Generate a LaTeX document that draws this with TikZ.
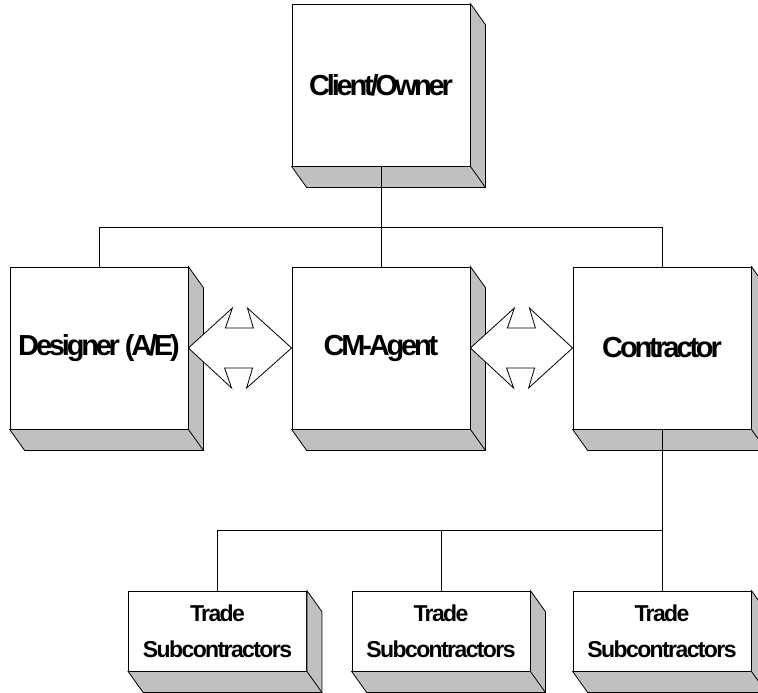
\documentclass[tikz,border=0pt]{standalone}
\usepackage{fontspec}
\setmainfont{Liberation Sans}
\newfontfamily\bigfont{Liberation Sans Bold}[LetterSpace=-11]
\newfontfamily\smallfont{Liberation Sans Bold}[LetterSpace=-7]
\usetikzlibrary{calc}
\definecolor{sidegray}{HTML}{C0C0C0}
\begin{document}
\begin{tikzpicture}[x=1pt,y=-1pt,
  boxbase/.style={draw=black, fill=white, line width=0.8pt, inner sep=0pt, minimum width=178pt, align=center},
  bigbox/.style={boxbase, minimum height=162pt, font=\bigfont\fontsize{29}{34}\selectfont},
  smallbox/.style={boxbase, minimum height=80pt, font=\smallfont\fontsize{23}{36}\selectfont},
  sideface/.style={draw=black, fill=sidegray, line width=0.8pt, line join=miter},
  link/.style={draw=black, line width=0.8pt},
  dblarrow/.style={draw=black, fill=white, line width=0.8pt, line join=miter}]
\useasboundingbox (0,0) rectangle (758,693);
\clip (0,0) rectangle (758,693);

\node[bigbox] (owner) at (381,85) {Client/Owner};
\node[bigbox] (designer) at (99,348) {Designer (A/E)};
\node[bigbox] (cm) at (381,348) {CM-Agent};
\node[bigbox] (contractor) at (662,348) {Contractor};
\node[smallbox] (sub1) at (217.5,631) {Trade\\Subcontractors};
\node[smallbox] (sub2) at (441,631) {Trade\\Subcontractors};
\node[smallbox] (sub3) at (662,631) {Trade\\Subcontractors};

\foreach \n in {owner,designer,cm,contractor,sub1,sub2,sub3}{
  \draw[sideface] (\n.north east) -- ++(15,21) -- ($(\n.south east)+(15,21)$)
    -- ($(\n.south west)+(15,21)$) -- (\n.south west) -- (\n.south east) -- cycle;
  \draw[link] (\n.south east) -- ++(15,21);
}

% connectors
\coordinate (j1) at (381,227);
\coordinate (j2) at (662,530);
\draw[link] (owner.south) -- (j1);
\draw[link] (designer.north) -- (designer.north |- j1) -- (contractor.north |- j1) -- (contractor.north);
\draw[link] (j1) -- (cm.north);
\draw[link] (contractor.south) -- (sub3.north);
\draw[link] (sub1.north) -- (sub1.north |- j2) -- (j2);
\draw[link] (sub2.north) -- (sub2.north |- j2);

% double arrows
\draw[dblarrow] (designer.east) -- ++(44,-40) -- ++(-7,20) -- ++(28,0) -- ++(-6,-20) -- (cm.west)
  -- ++(-45,40) -- ++(6,-20) -- ++(-28,0) -- ++(7,20) -- cycle;
\draw[dblarrow] (cm.east) -- ++(44,-40) -- ++(-7,20) -- ++(28,0) -- ++(-6,-20) -- (contractor.west)
  -- ++(-44,40) -- ++(6,-20) -- ++(-28,0) -- ++(7,20) -- cycle;
\end{tikzpicture}
\end{document}
